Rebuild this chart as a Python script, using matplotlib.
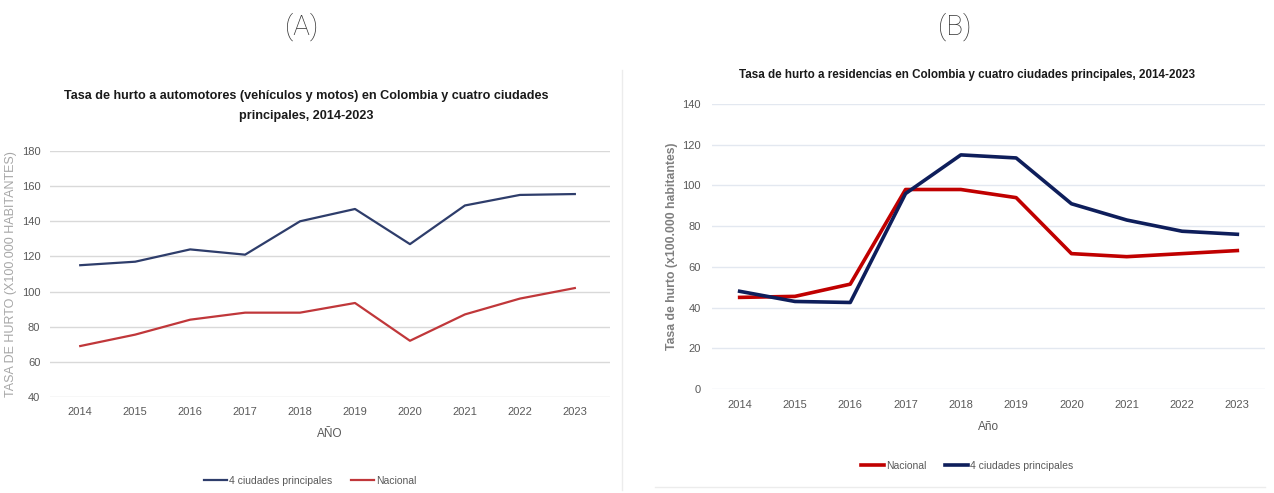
import matplotlib.pyplot as plt
from matplotlib.lines import Line2D

years = [2014, 2015, 2016, 2017, 2018, 2019, 2020, 2021, 2022, 2023]

# (A) automotores
a_ciudades = [115, 117, 124, 121, 140, 147, 127, 149, 155, 155.5]
a_nacional = [69, 75.5, 84, 88, 88, 93.5, 72, 87, 96, 102]

# (B) residencias
b_nacional = [45, 45.5, 51.5, 98, 98, 94, 66.5, 65, 66.5, 68]
b_ciudades = [48, 43, 42.5, 96, 115, 113.5, 91, 83, 77.5, 76]

W, H = 1274, 493
NARROW = ['Liberation Sans', 'DejaVu Sans']
GRAY = '#595959'

fig = plt.figure(figsize=(W / 100, H / 100), dpi=100)


def box(l, t, r, b):
    return [l / W, 1 - b / H, (r - l) / W, (b - t) / H]


# panel letters
fig.text(302 / W, 1 - 27 / H, '(A)', ha='center', va='center', fontsize=20,
         family='Roboto', fontweight='light', color='#333333')
fig.text(955 / W, 1 - 27 / H, '(B)', ha='center', va='center', fontsize=20,
         family='Roboto', fontweight='light', color='#333333')

# separators
fig.add_artist(Line2D([622 / W, 622 / W], [1 - 70 / H, 1 - 490 / H], color='#ececec', lw=1))
fig.add_artist(Line2D([655 / W, 1265 / W], [1 - 487 / H, 1 - 487 / H], color='#ececec', lw=1))

# ---- panel A
ax = fig.add_axes(box(50, 151, 610, 397))
ax.plot(years, a_ciudades, color='#2e3d6b', lw=1.6, label='4 ciudades principales')
ax.plot(years, a_nacional, color='#c0373a', lw=1.6, label='Nacional')
ax.set_ylim(40, 180)
ax.set_yticks(range(40, 181, 20))
ax.set_xlim(2013.45, 2023.64)
ax.set_xticks(years)
ax.grid(axis='y', color='#d9d9d9', lw=1)
ax.set_axisbelow(True)
for s in ax.spines.values():
    s.set_visible(False)
ax.tick_params(length=0, labelsize=8, colors=GRAY, pad=7)
for t in ax.get_xticklabels() + ax.get_yticklabels():
    t.set_family(NARROW)
ax.set_xlabel('AÑO', family=NARROW, fontsize=8.5, color=GRAY, labelpad=8)
ax.set_ylabel('TASA DE HURTO (X100.000 HABITANTES)', family=NARROW, fontsize=9, color='#a6a6a6')
ax.yaxis.set_label_coords(-33 / 560, 0.5)
fig.text(306 / W, 1 - 106 / H,
         'Tasa de hurto a automotores (vehículos y motos) en Colombia y cuatro ciudades\nprincipales, 2014-2023',
         ha='center', va='center', family=NARROW, fontweight='bold', fontsize=9.1,
         linespacing=1.9, color='#1a1a1a')
fig.legend(*ax.get_legend_handles_labels(), loc='center', bbox_to_anchor=(310 / W, 1 - 481 / H),
           ncol=2, frameon=False, prop={'family': NARROW, 'size': 7.5}, labelcolor=GRAY,
           handlelength=2.2, handletextpad=0.2, columnspacing=1.8)

# ---- panel B
bx = fig.add_axes(box(712, 104, 1265, 389))
bx.plot(years, b_nacional, color='#c00000', lw=2.6, label='Nacional')
bx.plot(years, b_ciudades, color='#0e1e5b', lw=2.6, label='4 ciudades principales')
bx.set_ylim(0, 140)
bx.set_yticks(range(0, 141, 20))
bx.set_xlim(2013.5, 2023.5)
bx.set_xticks(years)
bx.grid(axis='y', color='#e3e8f0', lw=1)
bx.set_axisbelow(True)
for s in bx.spines.values():
    s.set_visible(False)
bx.tick_params(length=0, labelsize=8, colors=GRAY, pad=8)
for t in bx.get_xticklabels() + bx.get_yticklabels():
    t.set_family(NARROW)
bx.set_xlabel('Año', family=NARROW, fontsize=8.5, color=GRAY, labelpad=8)
bx.set_ylabel('Tasa de hurto (x100.000 habitantes)', family=NARROW, fontsize=8.8,
              color='#7f7f7f', fontweight='bold')
bx.yaxis.set_label_coords(-34 / 553, 0.5)
fig.text(967 / W, 1 - 75 / H,
         'Tasa de hurto a residencias en Colombia y cuatro ciudades principales, 2014-2023',
         ha='center', va='center', family=NARROW, fontweight='bold', fontsize=8.4,
         color='#1a1a1a')
fig.legend(*bx.get_legend_handles_labels(), loc='center', bbox_to_anchor=(967 / W, 1 - 466 / H),
           ncol=2, frameon=False, prop={'family': NARROW, 'size': 7.5}, labelcolor=GRAY,
           handlelength=2.2, handletextpad=0.2, columnspacing=1.8)

fig.savefig('out.png', dpi=100)
